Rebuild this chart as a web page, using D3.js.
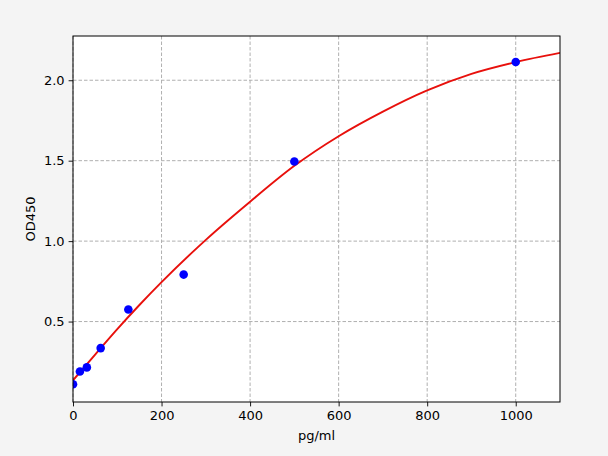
<!DOCTYPE html>
<html>
<head>
<meta charset="utf-8">
<script src="https://cdn.jsdelivr.net/npm/d3@7"></script>
<style>
  body { margin: 0; background: #f4f4f4; }
  svg { display: block; }
  text { font-family: "DejaVu Sans", sans-serif; fill: #000; }
</style>
</head>
<body>
<div id="chart"></div>
<script>
// standards, measured OD
const concentrations = [0, 15.6, 31.25, 62.5, 125, 250, 500, 1000];
const odValues = [0.11, 0.19, 0.215, 0.335, 0.575, 0.792, 1.495, 2.113];

// fitted curve
const curveX = [0, 50, 100, 150, 200, 300, 400, 500, 600, 700, 800, 900, 1000, 1100];
const curveY = [0.135, 0.295, 0.453, 0.603, 0.745, 1.008, 1.245, 1.468, 1.652, 1.805, 1.937, 2.04, 2.113, 2.17];

const xTicks = [0, 200, 400, 600, 800, 1000];
const yTicks = [0.5, 1.0, 1.5, 2.0];

var width = 608, height = 456;
var margin = {top: 36, right: 48, bottom: 54, left: 73};

var svg = d3.select("#chart")
	.append("svg")
	.attr("width", width)
	.attr("height", height);

svg.append("rect")
	.attr("width", width)
	.attr("height", height)
	.attr("fill", "#f4f4f4");

var x = d3.scaleLinear()
	.domain([0, 1100])
	.range([margin.left, width - margin.right]);

var y = d3.scaleLinear()
	.domain([0, 2.275])
	.range([height - margin.bottom, margin.top]);

//plot background
svg.append("rect")
	.attr("x", margin.left)
	.attr("y", margin.top)
	.attr("width", x(1100) - margin.left)
	.attr("height", y(0) - margin.top)
	.attr("fill", "#fff");

//gridlines
svg.append("g")
	.selectAll("line")
	.data(xTicks)
	.enter()
	.append("line")
	.attr("x1", d => x(d)).attr("x2", d => x(d))
	.attr("y1", margin.top).attr("y2", y(0))
	.attr("stroke", "#b0b0b0")
	.attr("stroke-width", 1)
	.attr("stroke-dasharray", "3.5,2");

svg.append("g")
	.selectAll("line")
	.data(yTicks)
	.enter()
	.append("line")
	.attr("y1", d => y(d)).attr("y2", d => y(d))
	.attr("x1", margin.left).attr("x2", x(1100))
	.attr("stroke", "#b0b0b0")
	.attr("stroke-width", 1)
	.attr("stroke-dasharray", "3.5,2");

//fitted curve
var line = d3.line()
	.x((d, i) => x(curveX[i]))
	.y(d => y(d))
	.curve(d3.curveMonotoneX);

svg.append("clipPath").attr("id", "plotclip")
	.append("rect")
	.attr("x", margin.left).attr("y", margin.top)
	.attr("width", x(1100) - margin.left).attr("height", y(0) - margin.top);

svg.append("path")
	.datum(curveY)
	.attr("d", line)
	.attr("fill", "none")
	.attr("stroke", "#e8100c")
	.attr("stroke-width", 1.9)
	.attr("clip-path", "url(#plotclip)");

//points
svg.append("g")
	.selectAll("circle")
	.data(odValues)
	.enter()
	.append("circle")
	.attr("cx", (d, i) => x(concentrations[i]))
	.attr("cy", d => y(d))
	.attr("r", 4.3)
	.attr("fill", "#0000ff")
	.attr("clip-path", "url(#plotclip)");

//axes
var xAxis = d3.axisBottom(x).tickValues(xTicks).tickSize(4.4).tickPadding(4).tickFormat(d3.format("d"));
var yAxis = d3.axisLeft(y).tickValues(yTicks).tickSize(4.4).tickPadding(4).tickFormat(d3.format(".1f"));

var gx = svg.append("g")
	.attr("transform", "translate(0," + y(0) + ")")
	.call(xAxis);
var gy = svg.append("g")
	.attr("transform", "translate(" + margin.left + ",0)")
	.call(yAxis);

[gx, gy].forEach(function(g){
	g.select(".domain").remove();
	g.selectAll(".tick line").attr("stroke", "#000").attr("stroke-width", 0.9);
	g.selectAll(".tick text").attr("font-size", "13px").attr("fill", "#000");
});

//frame
svg.append("rect")
	.attr("x", margin.left)
	.attr("y", margin.top)
	.attr("width", x(1100) - margin.left)
	.attr("height", y(0) - margin.top)
	.attr("fill", "none")
	.attr("stroke", "#000")
	.attr("stroke-width", 1);

//labels
svg.append("text")
	.attr("x", (margin.left + x(1100)) / 2)
	.attr("y", 440)
	.attr("text-anchor", "middle")
	.attr("font-size", "13px")
	.text("pg/ml");

svg.append("text")
	.attr("transform", "translate(35," + (margin.top + y(0)) / 2 + ") rotate(-90)")
	.attr("text-anchor", "middle")
	.attr("font-size", "13px")
	.text("OD450");
</script>
</body>
</html>
